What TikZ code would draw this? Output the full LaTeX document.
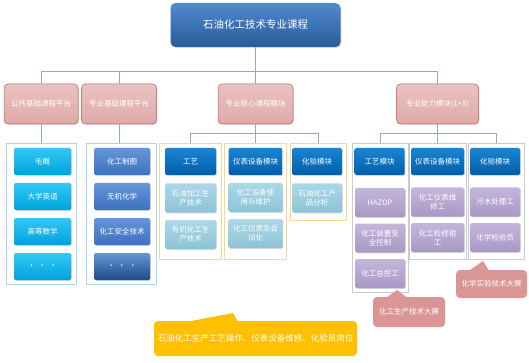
\documentclass[tikz,border=0pt]{standalone}
\usepackage{fontspec}
\newfontfamily\cjk{Noto Sans CJK SC}
\usepackage{xcolor}
\usepackage{tikz}
\usetikzlibrary{shadows, calc}

\definecolor{linkblue}{HTML}{8EAAD4}
\definecolor{titletop}{HTML}{4F8AD0}
\definecolor{titlebot}{HTML}{2A5A9A}
\definecolor{plattop}{HTML}{EAC2C1}
\definecolor{platbot}{HTML}{DFAAA9}
\definecolor{platedge}{HTML}{B8605C}
\definecolor{cyantop}{HTML}{33C8F6}
\definecolor{cyanbot}{HTML}{00A2DC}
\definecolor{steeltop}{HTML}{6496DA}
\definecolor{steelbot}{HTML}{3E71BE}
\definecolor{navybot}{HTML}{1F4A86}
\definecolor{headtop}{HTML}{1B85D2}
\definecolor{headbot}{HTML}{005EAA}
\definecolor{icetop}{HTML}{ACD8E7}
\definecolor{icebot}{HTML}{8CC3D7}
\definecolor{lilactop}{HTML}{C4B6DA}
\definecolor{lilacbot}{HTML}{A898C5}
\definecolor{frameblue}{HTML}{A9D6EC}
\definecolor{framegold}{HTML}{F8D88C}
\definecolor{framegray}{HTML}{C9C9D6}
\definecolor{notepink}{HTML}{D99695}
\definecolor{noteyellow}{HTML}{FFC000}

\begin{document}
\begin{tikzpicture}[x=1pt, y=-1pt,
    link/.style={draw=linkblue, line width=0.7pt},
    cell/.style={rectangle, rounded corners=1.5pt, align=center, text=white,
        font=\cjk\fontsize{7.5}{9}\selectfont, inner sep=1pt,
        drop shadow={shadow xshift=0.8pt, shadow yshift=-0.8pt, opacity=0.3}},
    frame/.style={rectangle, line width=0.8pt, fill=white},
    platform/.style={cell, rounded corners=4pt, draw=platedge, line width=0.5pt,
        top color=plattop, bottom color=platbot, minimum height=40pt},
    pubcell/.style={cell, top color=cyantop, bottom color=cyanbot, minimum width=57pt, minimum height=27pt},
    basecell/.style={cell, top color=steeltop, bottom color=steelbot, minimum width=56pt, minimum height=27pt},
    headcell/.style={cell, top color=headtop, bottom color=headbot, minimum height=27pt},
    corecell/.style={cell, top color=icetop, bottom color=icebot, minimum height=29pt},
    skillcell/.style={cell, top color=lilactop, bottom color=lilacbot, minimum width=50pt, minimum height=29pt},
    note/.style={rectangle, rounded corners=4pt, align=center, text=white,
        font=\cjk\fontsize{7.5}{9}\selectfont}]

\useasboundingbox (0,0) rectangle (529,363);
\fill[white] (0,0) rectangle (529,363);

% title
\node[cell, rounded corners=5pt, top color=titletop, bottom color=titlebot,
    minimum width=170pt, minimum height=44pt, font=\cjk\fontsize{10.5}{12}\selectfont]
    (top) at (255.5,25) {石油化工技术专业课程};

% platforms and modules
\node[platform, minimum width=74pt] (l1) at (41,104) {公共基础课程平台};
\node[platform, minimum width=75pt] (l2) at (119,104) {专业基础课程平台};
\node[platform, minimum width=75pt] (l3) at (255.5,104) {专业核心课程模块};
\node[platform, minimum width=82pt] (l4) at (437.5,104) {专业能力模块(1+X)};

% group frames
\node[frame, draw=frameblue, minimum width=70pt, minimum height=141pt] (g1) at (41.5,213.5) {};
\node[frame, draw=frameblue, minimum width=70pt, minimum height=141pt] (g2) at (121.5,213.5) {};
\node[frame, draw=framegold, minimum width=62pt, minimum height=116pt] (g3) at (190,201) {};
\node[frame, draw=framegold, minimum width=62pt, minimum height=116pt] (g4) at (255.5,201) {};
\node[frame, draw=framegold, minimum width=56pt, minimum height=77pt] (g5) at (318,181.5) {};
\node[frame, draw=framegray, minimum width=56pt, minimum height=149pt] (g6) at (380,217.5) {};
\node[frame, draw=framegray, minimum width=57pt, minimum height=116pt] (g7) at (437.5,201) {};
\node[frame, draw=framegray, minimum width=56pt, minimum height=116pt] (g8) at (496,201) {};

% connectors
\coordinate (bus1) at (0,71);
\coordinate (bus2) at (0,133);
\draw[link] (top.south) -- (l3.north);
\draw[link] (l1.north) -- (l1.north |- bus1) -- (l4.north |- bus1) -- (l4.north);
\draw[link] (l2.north) -- (l2.north |- bus1);
\draw[link] (l1.south) -- (l1.south |- g1.north);
\draw[link] (l2.south) -- (l2.south |- g2.north);
\draw[link] (l3.south) -- (g4.north);
\draw[link] (g3.north) -- (g3.north |- bus2) -- (g5.north |- bus2) -- (g5.north);
\draw[link] (l4.south) -- (g7.north);
\draw[link] (g6.north) -- (g6.north |- bus2) -- (g8.north |- bus2) -- (g8.north);

% public basics
\foreach \t [count=\i from 0] in {毛概,大学英语,高等数学,·\ \ ·\ \ ·}
    \node[pubcell] (pub\i) at (42.5,161.5+35*\i) {\t};

% professional basics
\foreach \t [count=\i from 0] in {化工制图,无机化学,化工安全技术}
    \node[basecell] (base\i) at (122,161.5+35*\i) {\t};
\node[basecell, top color=steeltop, bottom color=navybot] (base3) at (122,266.5) {·\ \ ·\ \ ·};

% core modules
\node[headcell, minimum width=51pt] (h3) at (190.5,161.5) {工艺};
\node[corecell, minimum width=51pt] (c31) at (190.5,198) {石油加工生\\产技术};
\node[corecell, minimum width=51pt] (c32) at (190.5,234.5) {有机化工生\\产技术};
\node[headcell, minimum width=54pt] (h4) at (255.5,161.5) {仪表设备模块};
\node[corecell, minimum width=54pt] (c41) at (255.5,197.5) {化工设备使\\用与维护};
\node[corecell, minimum width=54pt] (c42) at (255.5,233.5) {化工仪表及自\\动化};
\node[headcell, minimum width=50pt] (h5) at (317,161.5) {化验模块};
\node[corecell, minimum width=50pt] (c51) at (317,198) {石油化工产\\品分析};

% skill modules
\node[headcell, minimum width=50pt] (h6) at (379.5,161.5) {工艺模块};
\foreach \t [count=\i from 0] in {HAZOP,{化工装置安\\全控制},化工总控工}
    \node[skillcell] (s6\i) at (380,202.5+35.5*\i) {\t};
\node[headcell, minimum width=53pt] (h7) at (437.5,161.5) {仪表设备模块};
\foreach \t [count=\i from 0] in {{化工仪表维\\修工},{化工检修钳\\工}}
    \node[skillcell, minimum width=53pt] (s7\i) at (437.5,202+35.5*\i) {\t};
\node[headcell, minimum width=50pt] (h8) at (495,161.5) {化验模块};
\foreach \t [count=\i from 0] in {污水处理工,化学检验员}
    \node[skillcell] (s8\i) at (495,202+35.5*\i) {\t};

% contests and posts
\coordinate (tipA) at (483,261);
\coordinate (tipB) at (397,290);
\coordinate (tipC) at (233,313);
\node[note, fill=notepink, minimum width=71pt, minimum height=28pt] (contestA) at (491.5,284) {\raisebox{-3pt}{化学实验技术大赛}};
\fill[notepink] ($(contestA.north west)+(14,0.5)$) -- (tipA) -- ($(contestA.north west)+(33,0.5)$) -- cycle;
\node[note, fill=notepink, minimum width=72pt, minimum height=30pt] (contestB) at (409,312) {化工生产技术大赛};
\fill[notepink] ($(contestB.north west)+(14,0.5)$) -- (tipB) -- ($(contestB.north west)+(34,0.5)$) -- cycle;
\node[note, fill=noteyellow, minimum width=203pt, minimum height=35pt, font=\cjk\fontsize{8.5}{10}\selectfont] (post) at (255.5,338.5) {石油化工生产工艺操作、仪表设备维修、化验员岗位};
\fill[noteyellow] ($(post.north west)+(36,0.5)$) -- (tipC) -- ($(post.north west)+(84,0.5)$) -- cycle;

\end{tikzpicture}
\end{document}
